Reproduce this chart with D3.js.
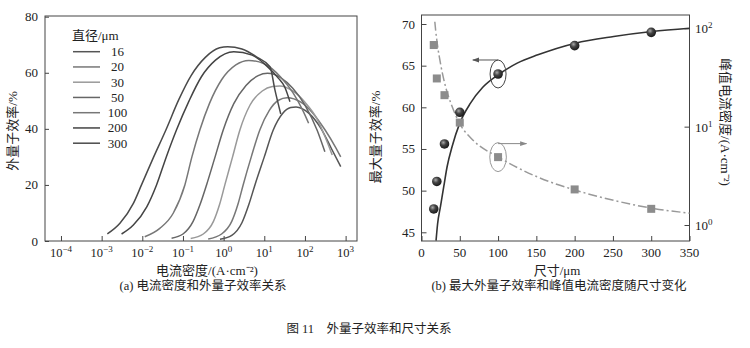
<!DOCTYPE html>
<html><head><meta charset="utf-8">
<script src="https://cdn.jsdelivr.net/npm/d3@7"></script>
<style>
body{margin:0;background:#fff;}
svg{display:block;}
text{font-family:"Liberation Serif","Noto Sans CJK SC",serif;fill:#222;}
</style></head>
<body>
<script>
// ---------- Data: panel (a) curves, x = log10(J / A·cm^-2), y = EQE % ----------
const diameters = ["16","20","30","50","100","200","300"];
const curve16  = [[-0.09,0.6],[0.2,2],[0.45,6.5],[0.62,13],[0.77,20],[1.0,30],[1.22,39.6],[1.45,45.5],[1.65,47.6],[1.78,47.8],[2.1,45.5],[2.4,40],[2.65,33],[2.88,26.5]];
const curve20  = [[-0.38,0.7],[-0.05,2.5],[0.2,7],[0.35,13],[0.48,20],[0.68,30],[0.89,39.6],[1.12,46.5],[1.35,50.2],[1.56,51.1],[1.9,49.5],[2.2,45.5],[2.5,39.5],[2.75,33.5],[2.88,30]];
const curve30  = [[-0.81,0.9],[-0.5,2.5],[-0.25,7],[-0.1,13],[0.03,20],[0.22,30],[0.40,39.6],[0.65,48.5],[0.95,53.5],[1.2,55.1],[1.38,55.3],[1.7,53.5],[2.0,49.5],[2.3,43.5],[2.5,37],[2.67,30.7]];
const curve50  = [[-1.28,1.0],[-1.0,2.5],[-0.75,7],[-0.58,13],[-0.42,20],[-0.21,30],[-0.01,39.6],[0.25,49],[0.55,55.5],[0.85,59],[1.08,59.8],[1.4,58.3],[1.7,54.5],[2.0,48.5],[2.3,39.5],[2.49,31.8]];
const curve100 = [[-1.94,1.5],[-1.57,4.5],[-1.24,9.9],[-0.953,20],[-0.78,30],[-0.585,39.6],[-0.35,49],[-0.05,57.5],[0.3,62.8],[0.62,64.4],[1.0,63.2],[1.4,58.5],[1.7,53],[1.95,46.5],[2.09,42]];
const curve200 = [[-2.51,2.5],[-2.22,5.7],[-1.89,12.2],[-1.65,20],[-1.41,30],[-1.16,39.6],[-0.85,50],[-0.55,58.5],[-0.2,64.5],[0.25,67.5],[0.7,66.3],[1.09,62],[1.35,58],[1.5,55],[1.63,49.7]];
const curve300 = [[-2.86,2.5],[-2.55,6.3],[-2.22,13.4],[-2.02,20],[-1.72,30],[-1.42,39.6],[-1.1,50.5],[-0.8,59],[-0.45,65.5],[-0.1,68.9],[0.1,69.3],[0.45,68.5],[0.85,65.3],[1.14,62.2],[1.26,54],[1.405,45.3]];
const curveColors = ["#555","#777","#999","#666","#777","#444","#4a4a4a"];
const xTicksA = [-4,-3,-2,-1,0,1,2,3];
const yTicksA = [0,20,40,60,80];

// ---------- Data: panel (b) ----------
const sizes = [16,20,30,50,100,200,300];
const maxEQE = [47.8,51.1,55.6,59.4,64.0,67.4,69.0];
const peakJ = [67.6,30.9,20.9,11.0,4.9,2.3,1.46];
const fitEQE = [[19,44],[21,46],[24.8,48.1],[29.1,50.5],[33.5,52.9],[40,55.3],[50,58.1],[64,60.5],[80,62.4],[101.7,64],[125,65.3],[152,66.3],[201,67.7],[251,68.5],[301,69.1],[350,69.5]];
const fitJ = [[17.4,116.7],[18.5,95],[20.5,70.8],[25,43],[31.3,25.7],[40,16],[50,10.7],[68,7.2],[100.5,4.9],[151,3.09],[201,2.26],[251,1.78],[301,1.48],[350,1.32]];
const xTicksB = [0,50,100,150,200,250,300,350];
const yTicksB = [45,50,55,60,65,70];
const yTicksBR = [0,1,2];

const W=750,H=348;
const svg=d3.select("body").append("svg").attr("width",W).attr("height",H);
const defs=svg.append("defs");
const g0=defs.append("radialGradient").attr("id","ball").attr("cx","38%").attr("cy","35%").attr("r","65%");
g0.append("stop").attr("offset","0%").attr("stop-color","#aaa");
g0.append("stop").attr("offset","45%").attr("stop-color","#444");
g0.append("stop").attr("offset","100%").attr("stop-color","#1a1a1a");
defs.append("marker").attr("id","arrDark").attr("viewBox","0 0 10 10").attr("refX",9).attr("refY",5)
  .attr("markerWidth",7).attr("markerHeight",7).attr("orient","auto")
  .append("path").attr("d","M0,1.5 L10,5 L0,8.5 Z").attr("fill","#555");
defs.append("marker").attr("id","arrGray").attr("viewBox","0 0 10 10").attr("refX",9).attr("refY",5)
  .attr("markerWidth",7).attr("markerHeight",7).attr("orient","auto")
  .append("path").attr("d","M0,1.5 L10,5 L0,8.5 Z").attr("fill","#888");

// ================= Panel (a) =================
const A={l:45,r:357,t:16,b:241};
const xA=d3.scaleLinear().domain([-4.393,3.28]).range([A.l,A.r]);
const yA=d3.scaleLinear().domain([0,80]).range([A.b,16.7]);
const gA=svg.append("g");
gA.append("rect").attr("x",A.l).attr("y",A.t).attr("width",A.r-A.l).attr("height",A.b-A.t)
  .attr("fill","none").attr("stroke","#444").attr("stroke-width",1);
// ticks
gA.append("g").attr("transform",`translate(0,${A.b})`)
  .call(d3.axisBottom(xA).tickValues(xTicksA).tickSize(-5).tickFormat(""))
  .call(s=>{s.select(".domain").remove();s.selectAll("line").attr("stroke","#444");});
gA.append("g").attr("transform",`translate(${A.l},0)`)
  .call(d3.axisLeft(yA).tickValues(yTicksA).tickSize(-4).tickFormat(""))
  .call(s=>{s.select(".domain").remove();s.selectAll("line").attr("stroke","#444");});
// tick labels
xTicksA.forEach(v=>{
  const t=gA.append("text").attr("x",xA(v)).attr("y",257).attr("text-anchor","middle").style("font-size","12.5px");
  t.append("tspan").text("10");
  t.append("tspan").attr("dy",-5).style("font-size","9px").text(v<0?"−"+(-v):String(v));
});
yTicksA.forEach(v=>{
  gA.append("text").attr("x",38).attr("y",yA(v)+4.5).attr("text-anchor","end").style("font-size","13px").text(v);
});
// curves
const lineA=d3.line().x(d=>xA(d[0])).y(d=>yA(d[1])).curve(d3.curveMonotoneX);
const curvesA=[curve16,curve20,curve30,curve50,curve100,curve200,curve300];
curvesA.forEach((c,i)=>{
  gA.append("path").attr("d",lineA(c)).attr("fill","none").attr("stroke",curveColors[i]).attr("stroke-width",1.5);
});
// legend
gA.append("text").attr("x",72).attr("y",40).style("font-size","13px").text("直径/μm");
diameters.forEach((d,i)=>{
  const y=51.7+i*15.25;
  gA.append("line").attr("x1",73).attr("x2",100).attr("y1",y).attr("y2",y).attr("stroke",curveColors[i]).attr("stroke-width",1.5);
  gA.append("text").attr("x",117.5).attr("y",y+4.5).attr("text-anchor","middle").style("font-size","13px").text(d);
});
// titles
gA.append("text").attr("x",207).attr("y",275).attr("text-anchor","middle").style("font-size","13px").text("电流密度/(A·cm⁻²)");
gA.append("text").attr("transform","translate(17,131) rotate(-90)").attr("text-anchor","middle").style("font-size","13px").text("外量子效率/%");
gA.append("text").attr("x",203).attr("y",290).attr("text-anchor","middle").style("font-size","12.5px").text("(a) 电流密度和外量子效率关系");

// ================= Panel (b) =================
const B={l:421.5,r:689.5,t:15,b:241};
const xB=d3.scaleLinear().domain([0,350]).range([B.l,B.r]);
const yB=d3.scaleLinear().domain([45,70]).range([232.3,24]);
const yBR=d3.scaleLog().domain([1,100]).range([225,28.3]);
const gB=svg.append("g");
gB.append("rect").attr("x",B.l).attr("y",B.t).attr("width",B.r-B.l).attr("height",B.b-B.t)
  .attr("fill","none").attr("stroke","#444").attr("stroke-width",1);
gB.append("g").attr("transform",`translate(0,${B.b})`)
  .call(d3.axisBottom(xB).tickValues(xTicksB).tickSize(-5).tickFormat(""))
  .call(s=>{s.select(".domain").remove();s.selectAll("line").attr("stroke","#444");});
gB.append("g").attr("transform",`translate(${B.l},0)`)
  .call(d3.axisLeft(yB).tickValues(yTicksB).tickSize(-5).tickFormat(""))
  .call(s=>{s.select(".domain").remove();s.selectAll("line").attr("stroke","#444");});
gB.append("g").attr("transform",`translate(${B.r},0)`)
  .call(d3.axisRight(yBR).tickValues(yTicksBR.map(e=>Math.pow(10,e))).tickSize(-5).tickFormat(""))
  .call(s=>{s.select(".domain").remove();s.selectAll("line").attr("stroke","#444");});
xTicksB.forEach(v=>{
  gB.append("text").attr("x",xB(v)).attr("y",257).attr("text-anchor","middle").style("font-size","13px").text(v);
});
yTicksB.forEach(v=>{
  gB.append("text").attr("x",415).attr("y",yB(v)+4.5).attr("text-anchor","end").style("font-size","13px").text(v);
});
yTicksBR.forEach(e=>{
  const t=gB.append("text").attr("x",695).attr("y",yBR(Math.pow(10,e))+5).style("font-size","13px");
  t.append("tspan").text("10");
  t.append("tspan").attr("dy",-5).style("font-size","9px").text(String(e));
});
// fit lines
const lineB=d3.line().x(d=>xB(d[0])).y(d=>yB(d[1])).curve(d3.curveMonotoneX);
const lineBR=d3.line().x(d=>xB(d[0])).y(d=>yBR(d[1])).curve(d3.curveMonotoneX);
gB.append("path").attr("d",lineBR(fitJ)).attr("fill","none").attr("stroke","#999").attr("stroke-width",1.5)
  .attr("stroke-dasharray","9,3,2,3");
gB.append("path").attr("d",lineB(fitEQE)).attr("fill","none").attr("stroke","#333").attr("stroke-width",1.6);
// markers
gB.selectAll("rect.sq").data(sizes).enter().append("rect").attr("class","sq")
  .attr("x",(d)=>xB(d)-4).attr("y",(d,i)=>yBR(peakJ[i])-4).attr("width",8).attr("height",8).attr("fill","#8c8c8c");
gB.selectAll("circle.bl").data(sizes).enter().append("circle").attr("class","bl")
  .attr("cx",d=>xB(d)).attr("cy",(d,i)=>yB(maxEQE[i])).attr("r",4.8).attr("fill","url(#ball)");
// annotations
const cx100=xB(100), cy1=yB(maxEQE[4]), cy2=yBR(peakJ[4]);
gB.append("ellipse").attr("cx",cx100).attr("cy",cy1).attr("rx",8).attr("ry",14).attr("fill","none").attr("stroke","#444").attr("stroke-width",1);
gB.append("line").attr("x1",cx100).attr("y1",cy1-14).attr("x2",xB(67)).attr("y2",cy1-14).attr("stroke","#555").attr("stroke-width",1).attr("marker-end","url(#arrDark)");
gB.append("ellipse").attr("cx",cx100).attr("cy",cy2).attr("rx",8.3).attr("ry",14.5).attr("fill","none").attr("stroke","#999").attr("stroke-width",1);
gB.append("line").attr("x1",cx100).attr("y1",cy2-13.5).attr("x2",xB(137)).attr("y2",cy2-13.5).attr("stroke","#888").attr("stroke-width",1).attr("marker-end","url(#arrGray)");
// titles
gB.append("text").attr("x",557).attr("y",275).attr("text-anchor","middle").style("font-size","13px").text("尺寸/μm");
gB.append("text").attr("transform","translate(380,137) rotate(-90)").attr("text-anchor","middle").style("font-size","13px").text("最大量子效率/%");
gB.append("text").attr("transform","translate(721,122) rotate(90)").attr("text-anchor","middle").style("font-size","13px").text("峰值电流密度/(A·cm⁻²)");
gB.append("text").attr("x",559).attr("y",290).attr("text-anchor","middle").style("font-size","12.5px").text("(b) 最大外量子效率和峰值电流密度随尺寸变化");

// figure caption
svg.append("text").attr("x",369).attr("y",333).attr("text-anchor","middle").style("font-size","12.5px")
  .attr("xml:space","preserve").text("图 11    外量子效率和尺寸关系");
</script>
</body></html>
